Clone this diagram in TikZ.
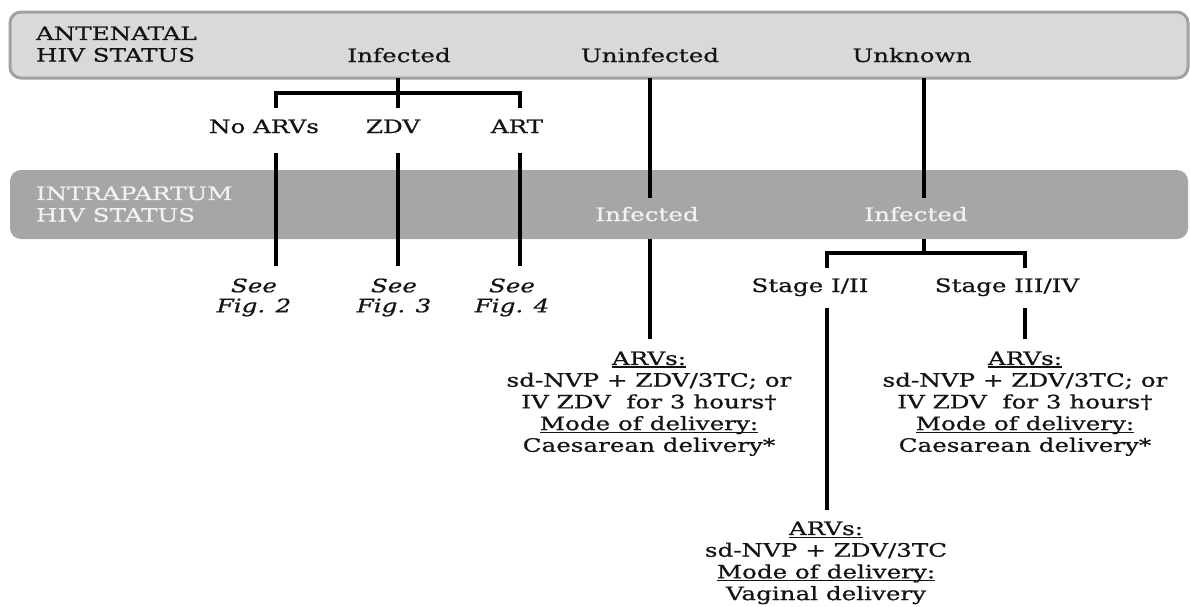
\documentclass[tikz,border=0pt]{standalone}
\usepackage{fontspec}
\setmainfont{DejaVu Serif}[FakeStretch=1.33,
  UprightFeatures={FakeBold=0.7}, ItalicFeatures={FakeBold=0.7}]
% thick underline placed a little below the baseline
\newcommand\undl[1]{\setbox0=\hbox{#1}\rlap{\rule[-3pt]{\wd0}{1.5pt}}\box0}
\begin{document}
\begin{tikzpicture}[x=1pt,y=-1pt,
  every node/.style={inner sep=0pt, outer sep=0pt, font=\fontsize{18.5}{21.7}\selectfont, text=black!92},
  band/.style={rounded corners=11pt, minimum width=1178pt},
  anteband/.style={band, minimum height=66pt, fill=black!15, draw=black!37, line width=3pt},
  intraband/.style={band, minimum height=69pt, fill=black!35},
  lbl/.style={anchor=base},
  hdr/.style={anchor=north west, align=left},
  onband/.style={text=black!5},
  block/.style={anchor=north, align=center},
  figref/.style={anchor=north, align=center, font=\fontsize{18.5}{20}\selectfont\itshape},
  conn/.style={line width=3.3pt, draw=black}]

\fill[white] (0,0) rectangle (1190,606);
\useasboundingbox (0,0) rectangle (1190,606);

% ---- status bands ----
\node[anteband] (ante) at (599,45) {};
\node[intraband] (intra) at (599,204.5) {};

\node[hdr] (anteT) at (36,26.5) {ANTENATAL\\HIV STATUS};
\node[hdr, onband] (intraT) at (36,186.5) {INTRAPARTUM\\HIV STATUS};

% ---- antenatal status ----
\node[lbl] (inf)   at (399,62) {Infected};
\node[lbl] (uninf) at (650,62) {Uninfected};
\node[lbl] (unk)   at (912,62) {Unknown};

% ---- regimens for known infection ----
\node[lbl] (noarv) at (264,133) {No ARVs};
\node[lbl] (zdv)   at (393,133) {ZDV};
\node[lbl] (art)   at (517,133) {ART};

\node[figref] (fig2) at (254,278.5) {See\\Fig. 2};
\node[figref] (fig3) at (394,278.5) {See\\Fig. 3};
\node[figref] (fig4) at (512,278.5) {See\\Fig. 4};

% ---- intrapartum status ----
\node[lbl, onband] (infU) at (647,221) {Infected};
\node[lbl, onband] (infK) at (916,221) {Infected};

\node[lbl] (st12)  at (810,292) {Stage I/II};
\node[lbl] (st34)  at (1007,292) {Stage III/IV};

% ---- recommendations ----
\node[block] (recU) at (649,351.5)
  {\undl{ARVs:}\\sd-NVP + ZDV/3TC; or\\IV ZDV\ \ for 3 hours†\\\undl{Mode of delivery:}\\Caesarean delivery*};
\node[block] (rec34) at (1025,351.5)
  {\undl{ARVs:}\\sd-NVP + ZDV/3TC; or\\IV ZDV\ \ for 3 hours†\\\undl{Mode of delivery:}\\Caesarean delivery*};
\node[block] (rec12) at (826,521.5)
  {\undl{ARVs:}\\sd-NVP + ZDV/3TC\\\undl{Mode of delivery:}\\Vaginal delivery};

% ---- junction and end points ----
\coordinate (jInf) at (398,93);
\coordinate (bNo)  at (276,93);
\coordinate (bArt) at (520,93);
\coordinate (eNo)  at (276,108);
\coordinate (eZdv) at (398,108);
\coordinate (eArt) at (520,108);
\coordinate (sNo)  at (276,153);
\coordinate (sZdv) at (398,153);
\coordinate (sArt) at (520,153);
\coordinate (tNo)  at (276,266);
\coordinate (tZdv) at (398,266);
\coordinate (tArt) at (520,266);
\coordinate (uMid) at (650,198);
\coordinate (uEnd) at (650,339);
\coordinate (kMid) at (924,198);
\coordinate (jUnk) at (924,253);
\coordinate (b12)  at (827,253);
\coordinate (b34)  at (1025,253);
\coordinate (e12)  at (827,268);
\coordinate (e34)  at (1025,268);
\coordinate (s12)  at (827,308);
\coordinate (t12)  at (827,510);
\coordinate (s34)  at (1025,308);
\coordinate (t34)  at (1025,339);

% ---- connectors ----
\draw[conn] (jInf |- ante.south) -- (jInf);
\draw[conn] (eNo) -- (bNo) -- (bArt) -- (eArt);
\draw[conn] (jInf) -- (eZdv);
\draw[conn] (sNo) -- (tNo);
\draw[conn] (sZdv) -- (tZdv);
\draw[conn] (sArt) -- (tArt);

\draw[conn] (uMid |- ante.south) -- (uMid);
\draw[conn] (uMid |- intra.south) -- (uEnd);

\draw[conn] (kMid |- ante.south) -- (kMid);
\draw[conn] (kMid |- intra.south) -- (jUnk);
\draw[conn] (e12) -- (b12) -- (b34) -- (e34);
\draw[conn] (s12) -- (t12);
\draw[conn] (s34) -- (t34);
\end{tikzpicture}
\end{document}
